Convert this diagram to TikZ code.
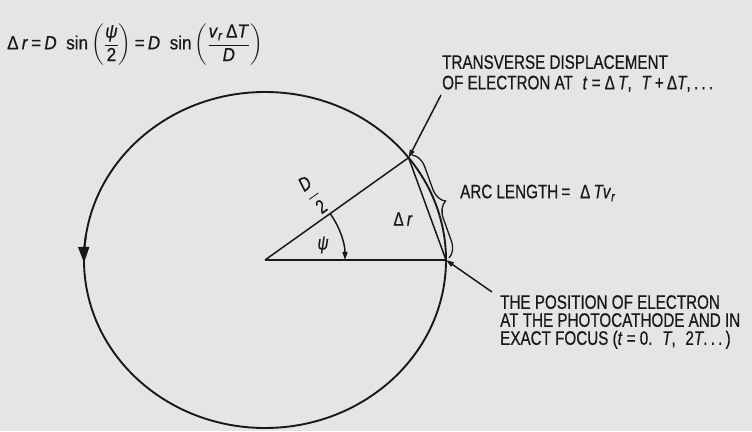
\documentclass[tikz,border=0pt]{standalone}
\usepackage{amsmath}
\usepackage{fontspec}
\setmainfont[FakeStretch=0.78,FakeBold=0.6]{Liberation Sans}
\newfontfamily\eqfont[FakeStretch=0.9,FakeBold=0.6]{Liberation Sans}
\usetikzlibrary{arrows.meta,calc,decorations.pathreplacing}
\definecolor{paper}{RGB}{229,230,228}
\definecolor{ink}{RGB}{25,25,25}

\begin{document}
\begin{tikzpicture}[x=1pt,y=1pt,>={Triangle[length=8pt,width=5pt]},color=ink,
  lbl/.style={inner sep=0pt,align=left,font=\fontsize{19.5}{20.5}\selectfont},
  orbit/.style={line width=1.9pt},
  ray/.style={line width=1.5pt}]
  \fill[paper] (0,0) rectangle (752,431);
  \useasboundingbox (0,0) rectangle (752,431);
  \coordinate (o) at (265,171);
  \coordinate (p0) at (446,171);
  \coordinate (p1) at (408.6,273.3);
  \coordinate (bt) at (412,276);
  \coordinate (bb) at (449,173);
  \coordinate (tv) at (441,336);
  \coordinate (pos) at (492,139);
  \draw[orbit] (o) ellipse [x radius=181pt,y radius=168pt];
  \draw[orbit,-{Triangle[length=16pt,width=11pt]}] ($(o)+(172:181pt and 168pt)$)
    arc[start angle=172,end angle=181,x radius=181pt,y radius=168pt];
  \draw[ray] (o) -- (p1); \draw[ray] (o) -- (p0); \draw[ray] (p1) -- (p0);
  \draw[ray,->] ($(o)+(35.5:80pt)$) arc[start angle=35.5,end angle=0,radius=80pt];
  \draw[line width=1.3pt,decorate,decoration={brace,amplitude=16pt}] (bt) -- (bb);
  \draw[ray,->] (tv) -- (p1); \draw[ray,->] (pos) -- (p0);
  \node[lbl,anchor=west,font=\eqfont\fontsize{19}{20}\selectfont] (eq) at (7,386) {Δ\,\textit{r}\,=\,\textit{D}\enspace sin\,$\left(\dfrac{\text{\textit{ψ}}}{\text{2}}\right)$\,=\,\textit{D}\enspace sin\,$\left(\dfrac{\text{\textit{v}\textsubscript{\textit{r}}\,Δ\textit{T}}}{\text{\textit{D}}}\right)$};
  \node[lbl,rotate=35.5] (half) at (313,236) {$\dfrac{\text{\textit{D}}}{\text{2}}$};
  \node[lbl] (psi) at (323,186) {\textit{ψ}};
  \node[lbl] (dr) at (403,212) {Δ\,\textit{r}};
  \node[lbl,anchor=north west] (tvlbl) at (442,376) {TRANSVERSE DISPLACEMENT\\OF ELECTRON AT\enspace\textit{t} = Δ\,\textit{T},\enspace\textit{T}\,+\,Δ\textit{T},\,.\,.\,.};
  \node[lbl,anchor=west] (arclbl) at (460,238) {ARC LENGTH\,=\enspace Δ\,\textit{Tv}\textsubscript{\textit{r}}};
  \node[lbl,anchor=north west,font=\fontsize{19.5}{18}\selectfont] (poslbl) at (500,136) {THE POSITION OF ELECTRON\\AT THE PHOTOCATHODE AND IN\\EXACT FOCUS (\textit{t} = 0.\enspace\textit{T},\enspace 2\textit{T}.\,.\,.\,)};
\end{tikzpicture}
\end{document}
